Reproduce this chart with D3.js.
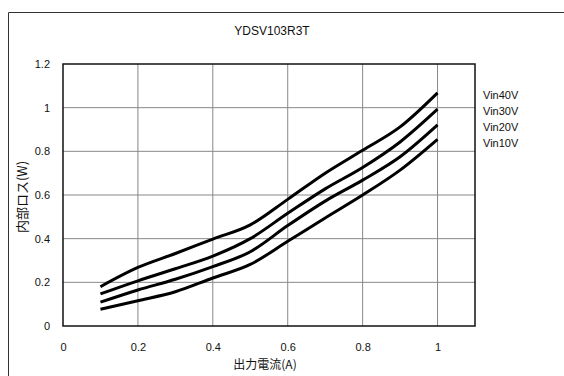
<!DOCTYPE html>
<html>
<head>
<meta charset="utf-8">
<script src="https://cdn.jsdelivr.net/npm/d3@7"></script>
<style>
  body { margin: 0; background: #fff; }
  text { font-family: "Liberation Sans", Arial, sans-serif; fill: #111; }
</style>
</head>
<body>
<div id="chart"></div>
<script>
// values
var current = [0.1, 0.2, 0.3, 0.4, 0.5, 0.6, 0.7, 0.8, 0.9, 1.0];
var vin40 = [0.180, 0.268, 0.332, 0.398, 0.463, 0.580, 0.700, 0.805, 0.912, 1.068];
var vin30 = [0.147, 0.207, 0.262, 0.320, 0.400, 0.516, 0.628, 0.726, 0.843, 0.993];
var vin20 = [0.109, 0.165, 0.214, 0.272, 0.340, 0.460, 0.572, 0.668, 0.775, 0.921];
var vin10 = [0.077, 0.116, 0.157, 0.220, 0.282, 0.388, 0.495, 0.600, 0.714, 0.855];
var seriesNames = ["Vin40V", "Vin30V", "Vin20V", "Vin10V"];
var xTicks = [0, 0.2, 0.4, 0.6, 0.8, 1];
var yTicks = [0, 0.2, 0.4, 0.6, 0.8, 1, 1.2];

var series = [vin40, vin30, vin20, vin10];

var width = 564, height = 376;
var margin = { top: 64, right: 89, bottom: 50, left: 63 };
var w = width - margin.left - margin.right;
var h = height - margin.top - margin.bottom;

var svg = d3.select("#chart").append("svg")
  .attr("width", width)
  .attr("height", height);

// outer frame (only top and left visible)
svg.append("line").attr("x1", 8.5).attr("x2", 564).attr("y1", 12.5).attr("y2", 12.5)
  .attr("stroke", "#333").attr("stroke-width", 1);
svg.append("line").attr("x1", 8.5).attr("x2", 8.5).attr("y1", 12.5).attr("y2", 376)
  .attr("stroke", "#333").attr("stroke-width", 1);

svg.append("text")
  .attr("x", 272).attr("y", 35)
  .attr("text-anchor", "middle")
  .style("font-size", "12px")
  .text("YDSV103R3T");

var g = svg.append("g").attr("transform", "translate(" + margin.left + "," + margin.top + ")");

var x = d3.scaleLinear().domain([0, 1.1]).range([0, w]);
var y = d3.scaleLinear().domain([0, 1.2]).range([h, 0]);

// grid
g.selectAll(".vgrid").data(xTicks.filter(function(d) { return d > 0; }))
  .enter().append("line")
  .attr("x1", function(d) { return x(d); }).attr("x2", function(d) { return x(d); })
  .attr("y1", 0).attr("y2", h)
  .attr("stroke", "#888").attr("stroke-width", 1);
g.selectAll(".hgrid").data(yTicks.filter(function(d) { return d > 0 && d < 1.2; }))
  .enter().append("line")
  .attr("x1", 0).attr("x2", w)
  .attr("y1", function(d) { return y(d); }).attr("y2", function(d) { return y(d); })
  .attr("stroke", "#888").attr("stroke-width", 1);

// plot border
g.append("rect").attr("x", 0).attr("y", 0).attr("width", w).attr("height", h)
  .attr("fill", "none").attr("stroke", "#111").attr("stroke-width", 1.5);

// axes
var xaxis = g.append("g")
  .attr("transform", "translate(0," + (h + 14) + ")")
  .call(d3.axisBottom(x).tickValues(xTicks).tickSize(0).tickFormat(d3.format("")));
xaxis.select(".domain").remove();
xaxis.selectAll("text").style("font-size", "11px");

var yaxis = g.append("g")
  .attr("transform", "translate(-10,0)")
  .call(d3.axisLeft(y).tickValues(yTicks).tickSize(0).tickFormat(d3.format("")));
yaxis.select(".domain").remove();
yaxis.selectAll("text").style("font-size", "11px");

// lines
var line = d3.line()
  .curve(d3.curveMonotoneX)
  .x(function(d, i) { return x(current[i]); })
  .y(function(d) { return y(d); });

g.selectAll(".curve").data(series).enter().append("path")
  .attr("d", line)
  .attr("fill", "none")
  .attr("stroke", "#000")
  .attr("stroke-width", 3);

// legend
svg.selectAll(".legend").data(seriesNames).enter().append("text")
  .attr("x", 483)
  .attr("y", function(d, i) { return 99 + i * 16; })
  .style("font-size", "11px")
  .text(function(d) { return d; });

// axis titles
svg.append("text")
  .attr("x", 265).attr("y", 369)
  .attr("text-anchor", "middle")
  .style("font-size", "12px")
  .style("font-family", "'Noto Sans CJK JP', sans-serif")
  .text("出力電流(A)");

svg.append("text")
  .attr("transform", "translate(27,197) rotate(-90)")
  .attr("text-anchor", "middle")
  .style("font-size", "13px")
  .style("font-family", "'Noto Sans CJK JP', sans-serif")
  .text("内部ロス(W)");
</script>
</body>
</html>
